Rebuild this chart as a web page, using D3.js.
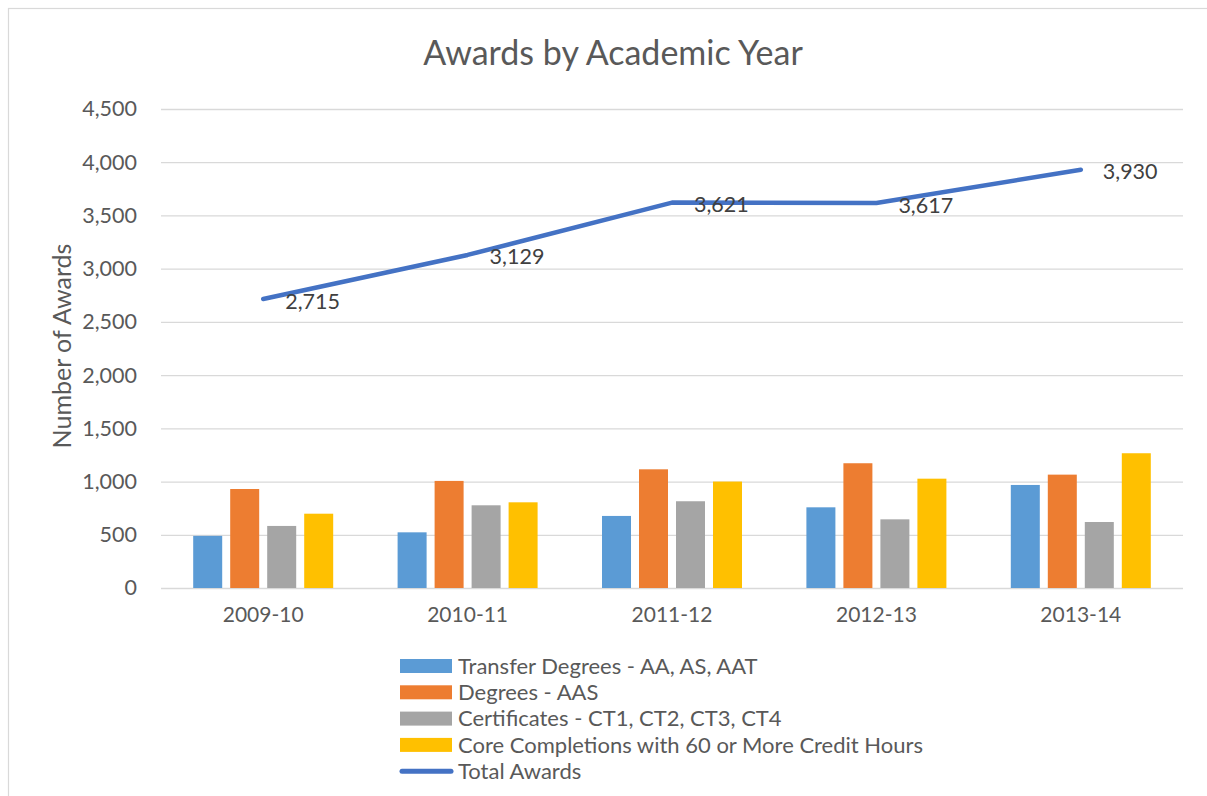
<!DOCTYPE html>
<html><head><meta charset="utf-8">
<script src="https://cdn.jsdelivr.net/npm/d3@7"></script>
<style>body{margin:0;background:#fff;}svg{display:block;font-family:Lato,"Open Sans",sans-serif;}</style>
</head><body>
<svg id="c" width="1207" height="796"></svg>
<script>
const categories = ["2009-10","2010-11","2011-12","2012-13","2013-14"];
const seriesNames = ["Transfer Degrees - AA, AS, AAT","Degrees - AAS","Certificates - CT1, CT2, CT3, CT4","Core Completions with 60 or More Credit Hours"];
const transfer = [490, 523, 677, 758, 968];
const aas = [930, 1006, 1115, 1172, 1065];
const certificates = [583, 777, 815, 645, 620];
const core = [698, 805, 1000, 1027, 1266];
const totalAwards = [2715, 3129, 3621, 3617, 3930];
const yTicks = [0,500,1000,1500,2000,2500,3000,3500,4000,4500];
const colors = ["#5B9BD5","#ED7D31","#A5A5A5","#FFC000"];
const lineColor = "#4472C4";
const seriesValues = [transfer, aas, certificates, core];
const FONT = "Lato, 'Open Sans', sans-serif";

const svg = d3.select("#c");
svg.append("rect").attr("x",8.5).attr("y",8.5).attr("width",1230).attr("height",800)
  .attr("fill","#fff").attr("stroke","#d9d9d9").attr("stroke-width",1.2);

const x0 = d3.scaleBand().domain(categories).range([161,1183]).padding(0);
const y = d3.scaleLinear().domain([0,4500]).range([588,109]);
const groupW = x0.bandwidth()*140/204.4;
const x1 = d3.scaleBand().domain(d3.range(4))
  .range([(x0.bandwidth()-groupW)/2,(x0.bandwidth()+groupW)/2]).paddingInner(8/37).paddingOuter(0);

// gridlines
const yAxis = d3.axisLeft(y).tickValues(yTicks).tickSize(-(1183-161)).tickFormat(d3.format(","));
const ga = svg.append("g").attr("transform","translate(161,0)").call(yAxis);
ga.select(".domain").remove();
ga.selectAll(".tick line").attr("stroke","#d9d9d9").attr("stroke-width",1.3);
ga.selectAll(".tick text").attr("x",-24).attr("fill","#595959").style("font-size","21.5px").style("font-family",FONT);

// x axis labels
const xAxis = d3.axisBottom(x0).tickSize(0).tickPadding(19);
const gx = svg.append("g").attr("transform","translate(0,588)").call(xAxis);
gx.select(".domain").remove();
gx.selectAll(".tick text").attr("fill","#595959").style("font-size","21px").style("font-family",FONT);

// bars
const groups = svg.append("g").selectAll("g").data(categories).join("g")
  .attr("transform",d=>`translate(${x0(d)},0)`);
groups.selectAll("rect").data((d,i)=>seriesValues.map((s,k)=>({k,v:s[i]}))).join("rect")
  .attr("x",d=>x1(d.k)).attr("width",x1.bandwidth())
  .attr("y",d=>y(d.v)).attr("height",d=>y(0)-y(d.v))
  .attr("fill",d=>colors[d.k]);

// line
const line = d3.line().x((d,i)=>x0(categories[i])+x0.bandwidth()/2).y(d=>y(d));
svg.append("path").datum(totalAwards).attr("d",line).attr("fill","none")
  .attr("stroke",lineColor).attr("stroke-width",4.5).attr("stroke-linecap","round").attr("stroke-linejoin","round");
svg.append("g").selectAll("text").data(totalAwards).join("text")
  .attr("x",(d,i)=>x0(categories[i])+x0.bandwidth()/2+22)
  .attr("y",d=>y(d)+2).attr("dy","0.35em")
  .attr("fill","#404040").style("font-size","21.5px").text(d=>d3.format(",")(d));

// title
svg.append("text").attr("x",613).attr("y",53).attr("dy","0.35em").attr("text-anchor","middle")
  .attr("fill","#595959").style("font-size","34px").text("Awards by Academic Year");
// y title
svg.append("text").attr("transform","translate(62,346) rotate(-90)").attr("dy","0.35em").attr("text-anchor","middle")
  .attr("fill","#595959").style("font-size","25px").text("Number of Awards");

// legend
const legNames = seriesNames.concat(["Total Awards"]);
const lg = svg.append("g").selectAll("g").data(legNames).join("g")
  .attr("transform",(d,i)=>`translate(400,${666+i*26.3})`);
lg.each(function(d,i){
  const g = d3.select(this);
  if(i<4){ g.append("rect").attr("x",0).attr("y",-7).attr("width",52).attr("height",14).attr("fill",colors[i]); }
  else { g.append("line").attr("x1",2).attr("x2",51).attr("y1",0).attr("y2",0).attr("stroke",lineColor).attr("stroke-width",5).attr("stroke-linecap","round"); }
  g.append("text").attr("x",58).attr("dy","0.35em").attr("fill","#595959").style("font-size","22px").text(d);
});
</script>
</body></html>
